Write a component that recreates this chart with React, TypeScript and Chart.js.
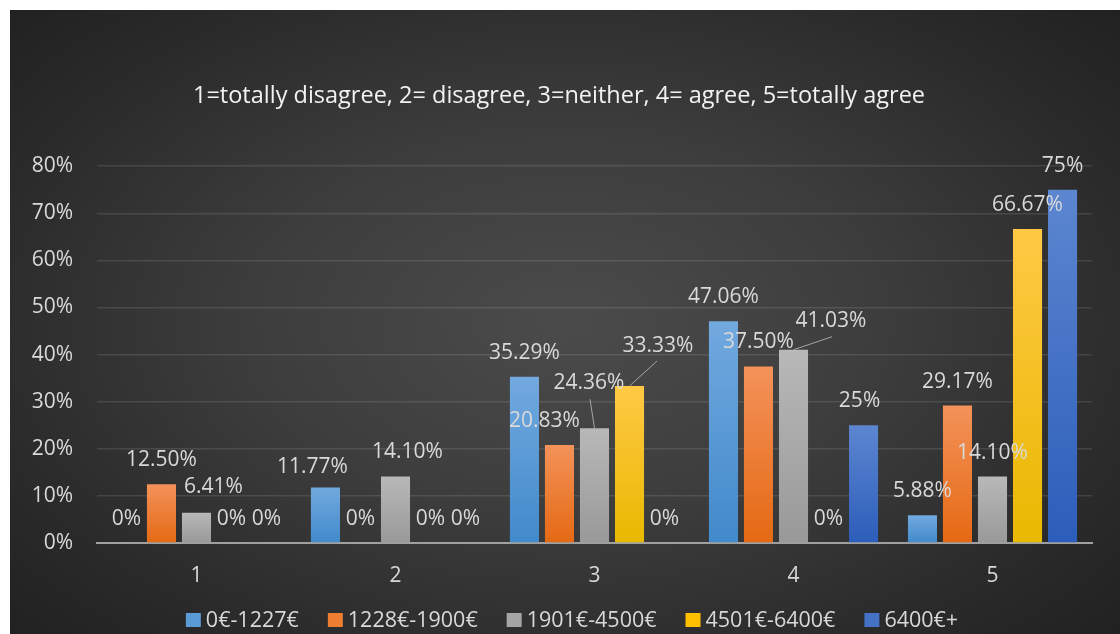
import { useEffect, useRef } from "react";
import { Chart, registerables } from "chart.js";

Chart.register(...registerables);

const chartTitle = "1=totally disagree, 2= disagree, 3=neither, 4= agree, 5=totally agree";
const categories = ["1", "2", "3", "4", "5"];
const seriesNames = ["0€-1227€", "1228€-1900€", "1901€-4500€", "4501€-6400€", "6400€+"];
const income0to1227 = [0, 11.77, 35.29, 47.06, 5.88];
const income1228to1900 = [12.5, 0, 20.83, 37.5, 29.17];
const income1901to4500 = [6.41, 14.1, 24.36, 41.03, 14.1];
const income4501to6400 = [0, 0, 33.33, 0, 66.67];
const income6400plus = [0, 0, 0, 25, 75];
const yMin = 0;
const yMax = 80;
const yStep = 10;

const seriesValues = [income0to1227, income1228to1900, income1901to4500, income4501to6400, income6400plus];

// [top colour, bottom colour, legend colour]
const seriesColors = [
  ["#72a9df", "#418acb", "#5b9bd5"],
  ["#f3925a", "#e56913", "#ed7d31"],
  ["#b8b8b8", "#999999", "#a5a5a5"],
  ["#ffc945", "#e9b800", "#ffc000"],
  ["#5c86d0", "#2c5dba", "#4472c4"],
];

// manual label nudges (Excel moved these labels), keyed by "dataset-index"
const labelNudges: Record<string, { dx: number; dy: number; leader?: { fx: number; fy: number } }> = {
  "2-0": { dx: 17, dy: -2 },
  "0-1": { dx: -13, dy: 3 },
  "2-1": { dx: 12, dy: -1 },
  "1-2": { dx: -15, dy: 0 },
  "2-2": { dx: -5.5, dy: -21, leader: { fx: 1, fy: 16 } },
  "3-2": { dx: 28.5, dy: -16, leader: { fx: -1, fy: 15 } },
  "2-3": { dx: 37.5, dy: -5, leader: { fx: 1, fy: 16 } },
  "4-3": { dx: -4, dy: 0 },
};

const FONT = "'Open Sans', 'Noto Sans', sans-serif";
const TEXT = "#d9d9d9";

const fmt = (v: number) => (Number.isInteger(v) ? `${v}%` : `${v.toFixed(2)}%`);

const valueLabels = {
  id: "valueLabels",
  afterDatasetsDraw(chart: any) {
    const ctx = chart.ctx;
    ctx.save();
    ctx.font = `21px ${FONT}`;
    ctx.fillStyle = TEXT;
    ctx.textAlign = "center";
    ctx.textBaseline = "middle";
    chart.data.datasets.forEach((ds: any, di: number) => {
      const meta = chart.getDatasetMeta(di);
      meta.data.forEach((bar: any, i: number) => {
        const v = ds.data[i] as number;
        const n = labelNudges[`${di}-${i}`] || { dx: 0, dy: 0 };
        const lx = bar.x + n.dx;
        const ly = bar.y - 24 + n.dy;
        if (n.leader) {
          ctx.save();
          ctx.strokeStyle = "#a6a6a6";
          ctx.lineWidth = 1;
          ctx.beginPath();
          ctx.moveTo(lx + n.leader.fx, ly + n.leader.fy);
          ctx.lineTo(bar.x, bar.y);
          ctx.stroke();
          ctx.restore();
        }
        ctx.fillText(fmt(v), lx, ly);
      });
    });
    ctx.restore();
  },
};

const bottomLegend = {
  id: "bottomLegend",
  afterDraw(chart: any) {
    const ctx = chart.ctx;
    ctx.save();
    ctx.font = `21.5px ${FONT}`;
    ctx.textBaseline = "middle";
    ctx.textAlign = "left";
    const box = 15;
    const boxGap = 5;
    const itemGap = 29;
    const widths = seriesNames.map((n) => ctx.measureText(n).width);
    const total = widths.reduce((a, w) => a + box + boxGap + w, 0) + itemGap * (seriesNames.length - 1);
    let x = chart.width / 2 + 7 - total / 2;
    const y = chart.height - 14;
    seriesNames.forEach((name, si) => {
      ctx.fillStyle = seriesColors[si][2];
      ctx.fillRect(x, y - 7, box, 14);
      ctx.fillStyle = TEXT;
      ctx.fillText(name, x + box + boxGap, y + 1);
      x += box + boxGap + widths[si] + itemGap;
    });
    ctx.restore();
  },
};

export default function App() {
  const ref = useRef<HTMLCanvasElement | null>(null);

  useEffect(() => {
    if (!ref.current) return;
    const datasets = seriesNames.map((name, si) => ({
      label: name,
      data: seriesValues[si],
      backgroundColor: (c: any) => {
        const chart = c.chart;
        const area = chart.chartArea;
        if (!area || c.type !== "data") return seriesColors[si][2];
        const yScale = chart.scales.y;
        const top = yScale.getPixelForValue(c.raw as number);
        const bottom = yScale.getPixelForValue(0);
        if (!(bottom - top > 1)) return seriesColors[si][1];
        const g = chart.ctx.createLinearGradient(0, top, 0, bottom);
        g.addColorStop(0, seriesColors[si][0]);
        g.addColorStop(1, seriesColors[si][1]);
        return g;
      },
      borderWidth: 0,
      categoryPercentage: 0.88,
      barPercentage: 0.83,
    }));

    const chart = new Chart(ref.current, {
      type: "bar",
      data: { labels: categories, datasets },
      options: {
        animation: false,
        responsive: false,
        devicePixelRatio: 1,
        layout: { padding: { left: 16, right: 28, top: 0, bottom: 45 } },
        plugins: {
          title: {
            display: true,
            text: chartTitle,
            color: "#f2f2f2",
            font: { family: FONT, size: 23.5, weight: "normal" },
            padding: { top: 72, bottom: 56 },
          },
          legend: { display: false },
          tooltip: { enabled: false },
        },
        scales: {
          x: {
            grid: { display: false, drawTicks: false },
            border: { display: true, color: "#a0a0a0", width: 2 },
            ticks: { color: TEXT, font: { family: FONT, size: 21 }, padding: 20 },
            afterFit: (s: any) => {
              s.height = 46;
            },
          },
          y: {
            min: yMin,
            max: yMax,
            grid: { color: "rgba(255,255,255,0.11)", lineWidth: 1.5, drawTicks: false },
            border: { display: false },
            ticks: {
              stepSize: yStep,
              color: TEXT,
              font: { family: FONT, size: 21 },
              padding: 24,
              callback: (v: any) => `${v}%`,
            },
            afterFit: (s: any) => {
              s.width = 71;
            },
          },
        },
      },
      plugins: [valueLabels, bottomLegend],
    });
    return () => chart.destroy();
  }, []);

  return (
    <div
      style={{
        position: "fixed",
        left: 10,
        top: 10,
        width: 1110,
        height: 624,
        background:
          "radial-gradient(ellipse 70% 75% at 50% 50%, #4b4b4b 0%, #3d3d3d 40%, #2b2b2b 75%, #202020 100%)",
      }}
    >
      <canvas ref={ref} width={1110} height={624} style={{ display: "block" }} />
    </div>
  );
}
